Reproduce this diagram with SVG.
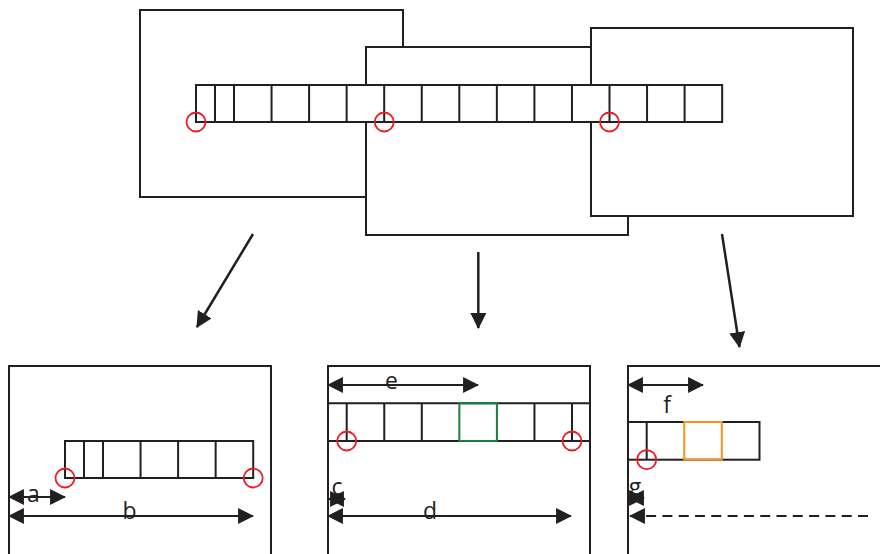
<svg xmlns="http://www.w3.org/2000/svg" width="880" height="554" viewBox="0 0 880 554">
<style>
.frame{fill:#fff;stroke:#231f20;stroke-width:2}
.cell{fill:#fff;stroke:#231f20;stroke-width:2}
.ln{stroke:#231f20;stroke-width:2;fill:none}
.pin{fill:none;stroke:#ed1c24;stroke-width:1.8}
.arr{stroke:#231f20;stroke-width:2.5;fill:none;marker-end:url(#ah)}
.dim{stroke:#231f20;stroke-width:2.2;fill:none;marker-start:url(#ah);marker-end:url(#ah)}
.lbl{font-family:"Open Sans","Liberation Sans",sans-serif;font-size:23px;fill:#231f20;text-anchor:middle}
</style>
<defs>
<marker id="ah" markerUnits="userSpaceOnUse" markerWidth="16" markerHeight="16" viewBox="0 0 15 15" refX="14" refY="7.5" orient="auto-start-reverse">
<path d="M0,0 L15,7.5 L0,15 z" fill="#231f20"/>
</marker>
</defs>

<g id="frame1"><rect class="frame" x="140" y="10" width="263" height="187"/></g>
<g id="frame2"><rect class="frame" x="366" y="47" width="262" height="188"/></g>
<g id="frame3"><rect class="frame" x="591" y="28" width="262" height="188"/></g>

<g id="top-strip">
<rect class="cell" x="196" y="85" width="526.15" height="37"/>
<path class="ln" d="M215,85V122M234,85V122M271.55,85V122M309.1,85V122M346.65,85V122M384.2,85V122M421.75,85V122M459.3,85V122M496.85,85V122M534.4,85V122M571.95,85V122M609.5,85V122M647.05,85V122M684.6,85V122"/>
<circle class="pin" cx="196" cy="122" r="9.5"/>
<circle class="pin" cx="384.2" cy="122" r="9.5"/>
<circle class="pin" cx="609.5" cy="122" r="9.5"/>
</g>

<g id="connectors">
<line class="arr" x1="253" y1="234" x2="197" y2="327"/>
<line class="arr" x1="478.3" y1="252" x2="478.3" y2="328"/>
<line class="arr" x1="722" y1="234" x2="739.5" y2="347"/>
</g>

<g id="panel1">
<rect class="frame" x="9" y="366" width="262" height="200"/>
<rect class="cell" x="65" y="441" width="188.2" height="37"/>
<path class="ln" d="M84,441V478M103,441V478M140.55,441V478M178.1,441V478M215.65,441V478"/>
<circle class="pin" cx="65" cy="478" r="9.5"/>
<circle class="pin" cx="253.2" cy="478" r="9.5"/>
<line class="dim" x1="9" y1="497" x2="65" y2="497"/>
<text class="lbl" x="33.5" y="502">a</text>
<line class="dim" x1="9" y1="516" x2="253" y2="516"/>
<text class="lbl" x="129.5" y="519">b</text>
</g>

<g id="panel2">
<rect class="frame" x="328" y="366" width="262" height="200"/>
<path class="ln" d="M328,403.3H590M328,441H590M346.7,403.3V441M384.25,403.3V441M421.8,403.3V441M534.45,403.3V441M572,403.3V441"/>
<rect x="459.35" y="403.3" width="37.55" height="37.7" fill="none" stroke="#1a7f3c" stroke-width="2"/>
<circle class="pin" cx="346.7" cy="441" r="9.5"/>
<circle class="pin" cx="572" cy="441" r="9.5"/>
<line class="dim" x1="328" y1="385" x2="478" y2="385"/>
<text class="lbl" x="391.5" y="389">e</text>
<text class="lbl" x="337" y="495">c</text>
<line class="dim" x1="329" y1="499" x2="345" y2="499"/>
<line class="dim" x1="328" y1="516" x2="571" y2="516"/>
<text class="lbl" x="430" y="519">d</text>
</g>

<g id="panel3">
<rect class="frame" x="628" y="366" width="262" height="200"/>
<rect class="cell" x="628" y="422" width="131.5" height="37.7"/>
<path class="ln" d="M646.7,422V459.7"/>
<rect x="684.25" y="422" width="37.55" height="37.7" fill="none" stroke="#f7941d" stroke-width="2"/>
<circle class="pin" cx="646.7" cy="459.7" r="9.5"/>
<line class="dim" x1="628" y1="385" x2="703" y2="385"/>
<text class="lbl" x="667" y="413">f</text>
<text class="lbl" x="635" y="495">g</text>
<line class="dim" x1="629" y1="498" x2="644" y2="498"/>
<path d="M868,516H630" stroke="#231f20" stroke-width="2.2" fill="none" stroke-dasharray="10 6.3" marker-end="url(#ah)"/>
</g>
</svg>
